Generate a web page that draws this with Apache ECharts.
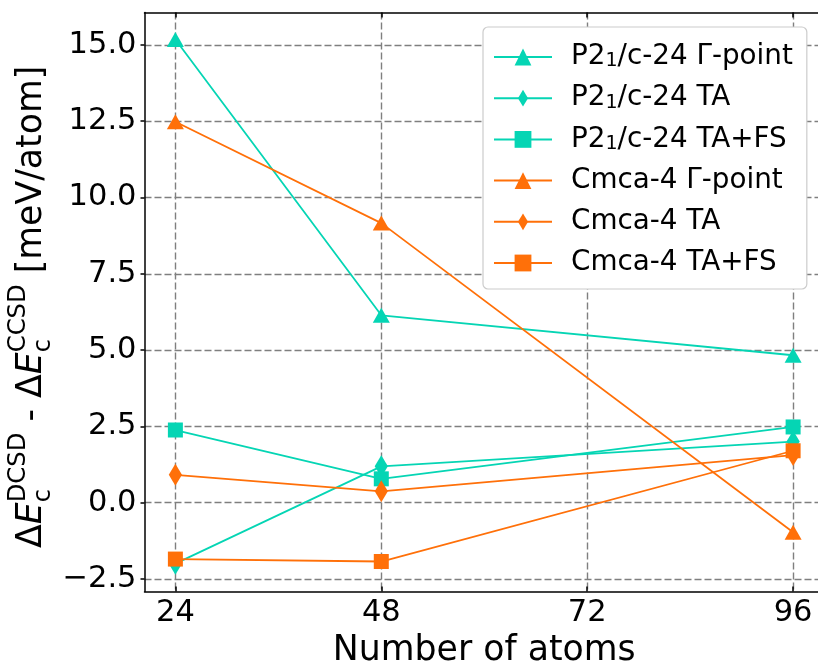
<!DOCTYPE html>
<html>
<head>
<meta charset="utf-8">
<script src="https://cdn.jsdelivr.net/npm/echarts@6/dist/echarts.min.js"></script>
<style>
html,body{margin:0;padding:0;background:#fff;}
#chart{width:818px;height:666px;}
</style>
</head>
<body>
<div id="chart"></div>
<script>
// ---- data ----
const xValues = [24, 48, 96];
const p21Gamma = [15.18, 6.14, 4.83];
const p21TA = [-2.0, 1.19, 2.0];
const p21TAFS = [2.38, 0.78, 2.48];
const cmcaGamma = [12.48, 9.16, -0.97];
const cmcaTA = [0.91, 0.37, 1.56];
const cmcaTAFS = [-1.85, -1.93, 1.70];
const seriesNames = ['P2\u2081/c-24 \u0393-point', 'P2\u2081/c-24 TA', 'P2\u2081/c-24 TA+FS',
                     'Cmca-4 \u0393-point', 'Cmca-4 TA', 'Cmca-4 TA+FS'];
const xTicks = [24, 48, 72, 96];
const yTicks = [-2.5, 0, 2.5, 5, 7.5, 10, 12.5, 15];
const xLabel = 'Number of atoms';

// ---- style ----
const TEAL = '#05d5b4';
const ORANGE = '#ff7009';
const FONT = 'DejaVu Sans';
const DIAMOND = 'path://M-1,0 L-1,0 M1,0 L1,0 M0,-1 L0.6,0 L0,1 L-0.6,0 Z';
const markers = {tri: 'triangle', dia: DIAMOND, sq: 'rect'};
const sizes = {tri: [17, 15], dia: 22, sq: 15};

const seriesDefs = [
  [seriesNames[0], p21Gamma, TEAL, 'tri'],
  [seriesNames[1], p21TA, TEAL, 'dia'],
  [seriesNames[2], p21TAFS, TEAL, 'sq'],
  [seriesNames[3], cmcaGamma, ORANGE, 'tri'],
  [seriesNames[4], cmcaTA, ORANGE, 'dia'],
  [seriesNames[5], cmcaTAFS, ORANGE, 'sq']
];

const series = seriesDefs.map(function (d) {
  return {
    name: d[0], type: 'line',
    data: xValues.map(function (x, i) { return [x, d[1][i]]; }),
    symbol: markers[d[3]], symbolSize: sizes[d[3]],
    lineStyle: {color: d[2], width: 1.8},
    itemStyle: {color: d[2], borderWidth: 0},
    emphasis: {disabled: true}
  };
});

const gridLine = {type: [7, 3], color: '#7f7f7f', width: 1.4};
const axisLineStyle = {color: '#000', width: 1.5};

const chart = echarts.init(document.getElementById('chart'), null, {renderer: 'canvas'});

// y-axis label built from pieces (super/subscripts)
function yLabelGraphic() {
  const ctx = document.createElement('canvas').getContext('2d');
  const F = 34.7, S = 24.3;
  function w(t, size, italic) {
    ctx.font = (italic ? 'italic ' : '') + size + 'px "' + FONT + '"';
    return ctx.measureText(t).width;
  }
  const children = [];
  let x = 0;
  function add(t, size, italic, y) {
    children.push({type: 'text', x: x, y: y, style: {text: t, fontSize: size, fontFamily: FONT,
      fontStyle: italic ? 'italic' : 'normal', fill: '#000', verticalAlign: 'middle', align: 'left'}});
  }
  function main(t, italic) { add(t, F, italic, -12); x += w(t, F, italic); }
  function supsub(sup, sub) {
    add(sup, S, false, -25);
    add(sub, S, false, 0);
    x += Math.max(w(sup, S, false), w(sub, S, false));
  }
  main('\u0394', false); main('E', true); supsub('DCSD', 'c');
  main(' - ', false);
  main('\u0394', false); main('E', true); supsub('CCSD', 'c');
  main(' [meV/atom]', false);
  return {type: 'group', x: 44, y: 548, rotation: Math.PI / 2, children: children};
}

function legendFormatter(name) {
  const parts = name.split('\u2081');
  if (parts.length === 1) return '{a|' + name + '}';
  return '{a|' + parts[0] + '}{s|1}{a|' + parts[1] + '}';
}

const option = {
  animation: false,
  backgroundColor: '#ffffff',
  grid: {left: 144.5, top: 12.5, width: 679.5, height: 579, outerBoundsMode: 'none', containLabel: false},
  legend: {
    left: 483, top: 27,
    orient: 'vertical',
    backgroundColor: '#ffffff',
    borderColor: '#cccccc', borderWidth: 1.2, borderRadius: 5,
    padding: [16, 14, 12, 10],
    itemWidth: 58, itemHeight: 21, itemGap: 13.2,
    formatter: legendFormatter,
    textStyle: {
      fontSize: 27.8, fontFamily: FONT, color: '#000', lineHeight: 28, padding: [0, 0, 0, 14],
      rich: {
        a: {fontSize: 27.8, fontFamily: FONT, color: '#000', lineHeight: 28},
        s: {fontSize: 19, fontFamily: FONT, color: '#000', lineHeight: 13, verticalAlign: 'bottom'}
      }
    },
    data: seriesNames
  },
  xAxis: [{
    type: 'value', min: 20.4, max: 99.6,
    axisLine: {show: true, onZero: false, lineStyle: axisLineStyle},
    axisTick: {show: true, inside: true, length: 5, customValues: xTicks, lineStyle: axisLineStyle},
    axisLabel: {customValues: xTicks, fontSize: 30.5, fontFamily: FONT, color: '#000', margin: 6},
    splitLine: {show: true, customValues: xTicks, lineStyle: gridLine},
    name: xLabel, nameLocation: 'middle', nameGap: 42,
    nameTextStyle: {fontSize: 34.7, fontFamily: FONT, color: '#000'}
  }, {
    type: 'value', min: 20.4, max: 99.6, position: 'top',
    axisLine: {show: true, onZero: false, lineStyle: axisLineStyle},
    axisTick: {show: true, inside: true, length: 5, customValues: xTicks, lineStyle: axisLineStyle},
    axisLabel: {show: false},
    splitLine: {show: false}
  }],
  yAxis: {
    type: 'value', min: -2.9125, max: 16.0625,
    axisLine: {show: true, onZero: false, lineStyle: axisLineStyle},
    axisTick: {show: true, inside: false, length: 4, customValues: yTicks, lineStyle: axisLineStyle},
    axisLabel: {customValues: yTicks, fontSize: 30.5, fontFamily: FONT, color: '#000', margin: 8,
      formatter: function (v) { return v.toFixed(1).replace('-', '\u2212'); }},
    splitLine: {show: true, customValues: yTicks, lineStyle: gridLine}
  },
  graphic: [yLabelGraphic()],
  series: series
};
chart.setOption(option);
</script>
</body>
</html>
